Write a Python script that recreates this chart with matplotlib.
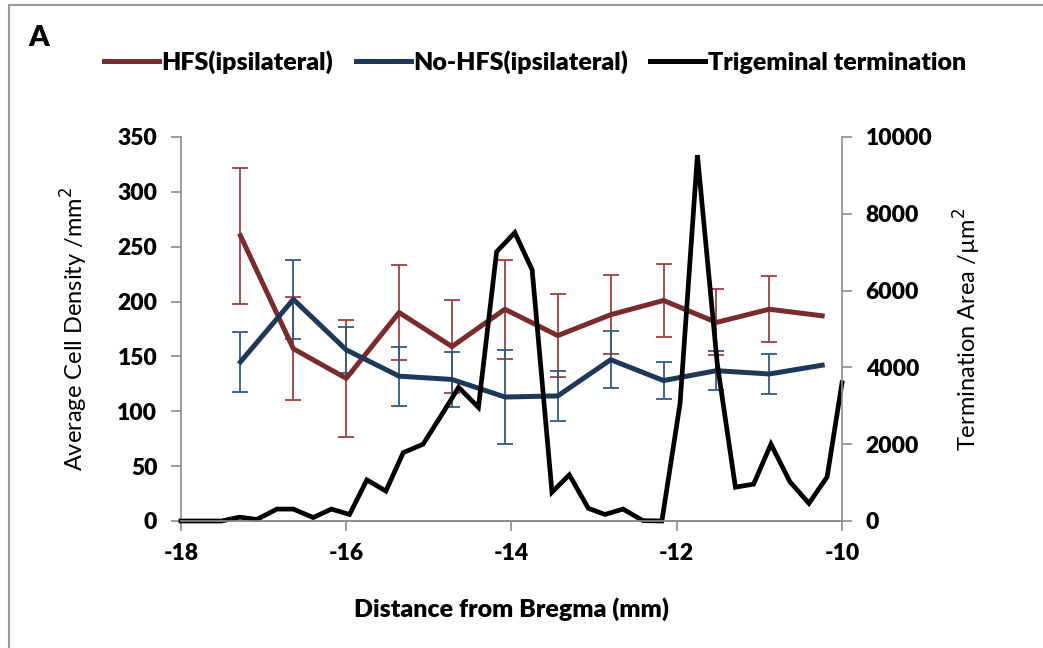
import matplotlib
matplotlib.use("Agg")
import matplotlib.pyplot as plt
from matplotlib.lines import Line2D

plt.rcParams['font.family'] = ['Lato', 'DejaVu Sans']
plt.rcParams['axes.unicode_minus'] = False

# cell density per section (left axis)
bregma = [-17.28, -16.64, -16.0, -15.36, -14.72, -14.08, -13.44, -12.8, -12.16, -11.52, -10.88, -10.24]
hfs = [260, 157, 130, 190, 159, 193, 169, 188, 201, 181, 193, 187]
hfs_err = [62, 47, 53, 43, 42, 45, 38, 36, 33, 30, 30, 0]
nohfs = [145, 202, 156, 132, 129, 113, 114, 147, 128, 137, 134, 142]
nohfs_err = [27, 36, 21, 27, 25, 43, 23, 26, 17, 18, 18, 0]

# trigeminal termination area (right axis)
term_x = [-18.0, -17.72, -17.51, -17.29, -17.08, -16.84, -16.64, -16.40, -16.18, -15.96,
          -15.75, -15.52, -15.31, -15.07, -14.82, -14.64, -14.40, -14.18, -13.96, -13.75,
          -13.51, -13.30, -13.07, -12.87, -12.65, -12.41, -12.18, -11.96, -11.75, -11.51,
          -11.29, -11.07, -10.86, -10.63, -10.40, -10.18, -10.0]
term_area = [0, 0, 0, 100, 40, 310, 310, 90, 310, 170,
             1070, 780, 1780, 2000, 2850, 3480, 2960, 7010, 7510, 6540,
             750, 1200, 330, 170, 310, 10, 0, 3060, 9530, 4100,
             880, 960, 2000, 1020, 460, 1150, 3600]

red = '#7a2b2b'
red_err = '#a23f3f'
navy = '#1e3859'
navy_err = '#2f5b86'
grey = '#8c8c8c'

fig = plt.figure(figsize=(10.43, 6.48), dpi=100)
ax = fig.add_axes([0.1735, 0.196, 0.6338, 0.5926])
ax2 = ax.twinx()

ax.errorbar(bregma[:-1], hfs[:-1], yerr=hfs_err[:-1], fmt='none', ecolor=red_err,
            elinewidth=1.3, capsize=6, capthick=1.3)
ax.errorbar(bregma[:-1], nohfs[:-1], yerr=nohfs_err[:-1], fmt='none', ecolor=navy_err,
            elinewidth=1.3, capsize=6, capthick=1.3)
ax.plot(bregma, hfs, color=red, lw=3.6, solid_joinstyle='round')
ax.plot(bregma, nohfs, color=navy, lw=3.6, solid_joinstyle='round')
ax2.plot(term_x, term_area, color='black', lw=3.4, solid_joinstyle='miter', clip_on=False)

ax.set_xlim(-18, -10)
ax.set_ylim(0, 350)
ax2.set_ylim(0, 10000)
ax.set_xticks([-18, -16, -14, -12, -10])
ax.set_yticks(range(0, 351, 50))
ax2.set_yticks(range(0, 10001, 2000))

for a in (ax, ax2):
    a.spines['top'].set_visible(False)
    for s in a.spines.values():
        s.set_color(grey)
        s.set_linewidth(1.2)
    a.tick_params(length=7, width=1.2, color=grey, labelsize=16.5, pad=10)
    for lab in a.get_xticklabels() + a.get_yticklabels():
        lab.set_fontweight('heavy')
ax.spines['right'].set_visible(False)
ax2.spines['left'].set_visible(False)
ax.tick_params(axis='x', pad=9)

ax.set_ylabel('Average Cell Density /mm$^2$', fontsize=17, labelpad=20)
ax2.set_ylabel('Termination Area /µm$^2$', fontsize=17, labelpad=14)
ax.set_xlabel('Distance from Bregma (mm)', fontsize=18, fontweight='heavy', labelpad=24)

handles = [Line2D([], [], color=red, lw=3.6),
           Line2D([], [], color=navy, lw=3.6),
           Line2D([], [], color='black', lw=3.6)]
fig.legend(handles, ['HFS(ipsilateral)', 'No-HFS(ipsilateral)', 'Trigeminal termination'],
           loc='center', bbox_to_anchor=(0.513, 0.904), ncol=3, frameon=False,
           prop={'size': 18, 'weight': 'heavy'}, handlelength=2.2, handletextpad=0.1,
           columnspacing=0.9)

fig.text(0.027, 0.942, 'A', fontsize=21, fontweight='heavy', va='center')

# outer frame lines
fig.add_artist(Line2D([0.009, 0.009], [0, 0.992], color='#9a9a9a', lw=1.5, transform=fig.transFigure))
fig.add_artist(Line2D([0.009, 1.0], [0.992, 0.992], color='#9a9a9a', lw=1.5, transform=fig.transFigure))

fig.savefig('out.png', dpi=100)
